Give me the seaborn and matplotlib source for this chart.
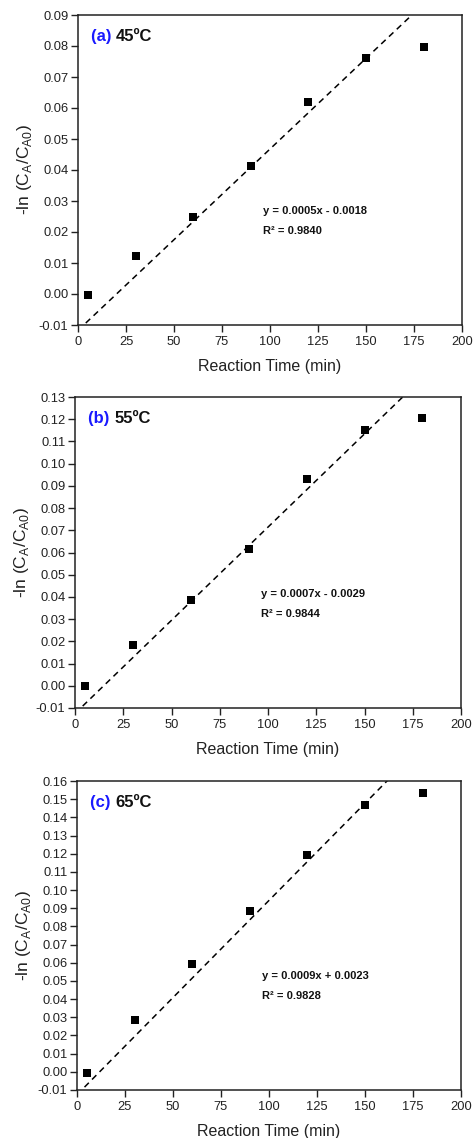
import numpy as np
import pandas as pd
import matplotlib
matplotlib.use("Agg")
import matplotlib.pyplot as plt
import seaborn as sns

sns.set_style("ticks")
plt.rcParams['font.family'] = ['Liberation Sans', 'DejaVu Sans']
plt.rcParams['mathtext.fontset'] = 'custom'
plt.rcParams['mathtext.rm'] = 'Liberation Sans'

# ---- data ----
time_min = [5, 30, 60, 90, 120, 150, 180]
y_45 = [-0.0004, 0.0124, 0.0249, 0.0412, 0.0618, 0.0761, 0.0798]
y_55 = [-0.0003, 0.0183, 0.0384, 0.0617, 0.0931, 0.1150, 0.1206]
y_65 = [-0.0005, 0.0287, 0.0591, 0.0885, 0.1195, 0.1466, 0.1536]

# dashed trend lines as drawn (slope, intercept)
line_slopes = [0.000585, 0.000839, 0.001069]
line_intercepts = [-0.01173, -0.01247, -0.0126]

panel_ids = ["(a)", "(b)", "(c)"]
panel_temps = ["45ºC", "55ºC", "65ºC"]
equations = ["y = 0.0005x - 0.0018", "y = 0.0007x - 0.0029", "y = 0.0009x + 0.0023"]
r2_texts = ["R² = 0.9840", "R² = 0.9844", "R² = 0.9828"]
y_tops = [0.09, 0.13, 0.16]
y_bottom = -0.01
x_ticks = [0, 25, 50, 75, 100, 125, 150, 175, 200]

series = [y_45, y_55, y_65]

fig = plt.figure(figsize=(4.75, 11.38), dpi=100)
rects = [
    [78 / 475, 1 - 325 / 1138, 384 / 475, 310 / 1138],
    [75 / 475, 1 - 708 / 1138, 386 / 475, 311 / 1138],
    [77 / 475, 1 - 1090 / 1138, 384 / 475, 309 / 1138],
]

for i in range(3):
    ax = fig.add_axes(rects[i])
    df = pd.DataFrame({"t": time_min, "y": series[i]})
    xl = np.array([0, 200])
    dl = pd.DataFrame({"t": xl, "y": line_slopes[i] * xl + line_intercepts[i]})
    sns.lineplot(data=dl, x="t", y="y", ax=ax, color="black", linewidth=1.1,
                 linestyle=(0, (4, 3)), zorder=2)
    sns.scatterplot(data=df, x="t", y="y", ax=ax, marker="s", s=32, color="black",
                    edgecolor="black", linewidth=0, zorder=3)
    ax.set_xlim(0, 200)
    ax.set_ylim(y_bottom, y_tops[i])
    ax.set_xticks(x_ticks)
    n = int(round((y_tops[i] - y_bottom) / 0.01))
    yt = [round(y_bottom + 0.01 * k, 2) for k in range(n + 1)]
    ax.set_yticks(yt)
    ax.set_yticklabels([f"{v:.2f}" for v in yt])
    ax.tick_params(axis="both", direction="out", length=5, width=1, labelsize=9.3,
                   colors="#222222", pad=2, top=False, right=False)
    ax.tick_params(axis="x", pad=3)
    for sp in ax.spines.values():
        sp.set_visible(True)
        sp.set_linewidth(1.1)
        sp.set_color("#222222")
    ax.set_xlabel("Reaction Time (min)", fontsize=11.5, labelpad=8, color="#222222")
    ax.set_ylabel(r"-ln (C$_{\mathregular{A}}$/C$_{\mathregular{A0}}$)", fontsize=12.5,
                  labelpad=3, color="#222222")
    t1 = ax.text(0.034, 0.93, panel_ids[i] + " ", transform=ax.transAxes, fontsize=12,
                 fontweight="bold", color="#1a1aff", va="center", ha="left")
    ax.annotate(panel_temps[i], xycoords=t1, xy=(1, 0.5), va="center", ha="left",
                fontsize=12, fontweight="bold", color="#111111")
    ax.text(0.483, 0.368, equations[i], transform=ax.transAxes, fontsize=8,
            fontweight="bold", va="center", ha="left", color="#111111")
    ax.text(0.483, 0.303, r2_texts[i], transform=ax.transAxes, fontsize=8,
            fontweight="bold", va="center", ha="left", color="#111111")

fig.savefig("out.png", dpi=100)
